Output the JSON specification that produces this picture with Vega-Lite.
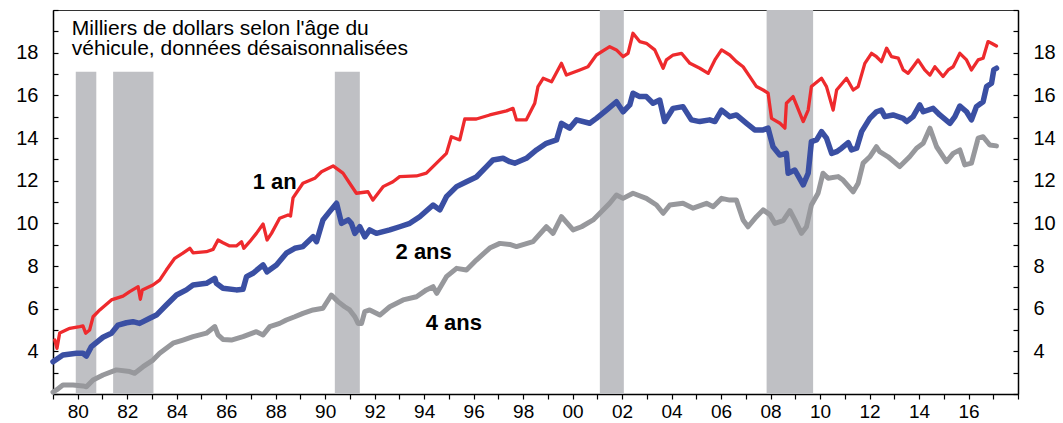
{
  "$schema": "https://vega.github.io/schema/vega-lite/v6.json",
  "width": 965,
  "height": 384,
  "autosize": {"type": "none"},
  "padding": {"left": 53, "top": 10, "right": 45, "bottom": 29},
  "background": "white",
  "config": {
    "view": {"stroke": "#333", "strokeWidth": 1},
    "font": "Liberation Sans",
    "axis": {"grid": false, "title": null, "labelFont": "Liberation Sans", "labelFontSize": 20, "labelColor": "#000", "domainColor": "#000", "domainWidth": 1.5, "tickColor": "#000", "tickWidth": 1.2}
  },
  "datasets": {
    "rec": [
      {"a": 1979.92, "b": 1980.75, "top": 17.1},
      {"a": 1981.43, "b": 1983.06, "top": 17.1},
      {"a": 1990.39, "b": 1991.40, "top": 17.1},
      {"a": 2001.10, "b": 2002.07, "top": 20},
      {"a": 2007.84, "b": 2009.72, "top": 20}
    ],
    "red": [
      {"t":1979.07,"v":4.53},{"t":1979.16,"v":4.14},{"t":1979.27,"v":4.86},{"t":1979.68,"v":5.08},{"t":1980.08,"v":5.16},{"t":1980.21,"v":5.19},{"t":1980.32,"v":4.85},{"t":1980.48,"v":5.00},{"t":1980.62,"v":5.62},{"t":1980.89,"v":5.94},
      {"t":1981.36,"v":6.41},{"t":1981.83,"v":6.59},{"t":1982.10,"v":6.80},{"t":1982.44,"v":7.03},{"t":1982.53,"v":6.44},{"t":1982.61,"v":6.88},{"t":1983.04,"v":7.11},{"t":1983.31,"v":7.34},{"t":1983.58,"v":7.81},{"t":1983.92,"v":8.36},
      {"t":1984.25,"v":8.60},{"t":1984.53,"v":8.83},{"t":1984.66,"v":8.62},{"t":1985.20,"v":8.67},{"t":1985.47,"v":8.78},{"t":1985.67,"v":9.22},{"t":1985.87,"v":9.09},{"t":1986.14,"v":8.94},{"t":1986.41,"v":8.94},{"t":1986.62,"v":9.14},
      {"t":1986.71,"v":8.83},{"t":1986.95,"v":9.14},{"t":1987.22,"v":9.53},{"t":1987.49,"v":9.97},{"t":1987.65,"v":9.22},{"t":1987.83,"v":9.53},{"t":1988.16,"v":10.24},{"t":1988.50,"v":10.39},{"t":1988.60,"v":10.34},{"t":1988.70,"v":11.19},
      {"t":1989.10,"v":11.88},{"t":1989.58,"v":12.11},{"t":1989.85,"v":12.42},{"t":1990.32,"v":12.69},{"t":1990.72,"v":12.35},{"t":1990.99,"v":11.88},{"t":1991.26,"v":11.41},{"t":1991.73,"v":11.48},{"t":1991.93,"v":11.09},{"t":1992.34,"v":11.72},
      {"t":1992.74,"v":11.95},{"t":1993.01,"v":12.19},{"t":1993.69,"v":12.22},{"t":1994.09,"v":12.35},{"t":1994.50,"v":12.82},{"t":1994.90,"v":13.28},{"t":1995.10,"v":14.06},{"t":1995.44,"v":13.91},{"t":1995.64,"v":14.89},{"t":1996.11,"v":14.89},
      {"t":1996.65,"v":15.08},{"t":1997.33,"v":15.27},{"t":1997.59,"v":15.39},{"t":1997.73,"v":14.85},{"t":1998.13,"v":14.85},{"t":1998.47,"v":15.63},{"t":1998.60,"v":16.41},{"t":1998.81,"v":16.80},{"t":1999.15,"v":16.64},{"t":1999.55,"v":17.50},
      {"t":1999.75,"v":16.95},{"t":2000.29,"v":17.19},{"t":2000.62,"v":17.34},{"t":2000.96,"v":17.89},{"t":2001.50,"v":18.28},{"t":2001.77,"v":18.13},{"t":2002.04,"v":17.81},{"t":2002.24,"v":17.97},{"t":2002.44,"v":18.91},{"t":2002.71,"v":18.52},
      {"t":2002.98,"v":18.44},{"t":2003.32,"v":18.13},{"t":2003.66,"v":17.27},{"t":2003.79,"v":17.66},{"t":2004.06,"v":17.89},{"t":2004.40,"v":17.97},{"t":2004.74,"v":17.50},{"t":2005.14,"v":17.27},{"t":2005.48,"v":17.03},{"t":2005.75,"v":17.66},
      {"t":2006.02,"v":18.13},{"t":2006.35,"v":17.89},{"t":2006.62,"v":17.58},{"t":2006.89,"v":17.34},{"t":2007.16,"v":16.88},{"t":2007.43,"v":16.41},{"t":2007.70,"v":16.25},{"t":2007.90,"v":16.10},{"t":2008.04,"v":14.92},{"t":2008.38,"v":14.69},
      {"t":2008.58,"v":14.46},{"t":2008.64,"v":15.63},{"t":2008.91,"v":15.94},{"t":2009.32,"v":14.77},{"t":2009.52,"v":15.31},{"t":2009.65,"v":16.41},{"t":2010.06,"v":16.80},{"t":2010.26,"v":16.41},{"t":2010.53,"v":15.31},{"t":2010.67,"v":16.25},
      {"t":2011.07,"v":16.80},{"t":2011.34,"v":16.25},{"t":2011.54,"v":16.41},{"t":2011.81,"v":17.50},{"t":2012.08,"v":17.97},{"t":2012.28,"v":17.81},{"t":2012.48,"v":17.58},{"t":2012.69,"v":18.21},{"t":2012.89,"v":17.81},{"t":2013.16,"v":17.74},
      {"t":2013.36,"v":17.19},{"t":2013.56,"v":17.03},{"t":2013.76,"v":17.34},{"t":2013.96,"v":17.66},{"t":2014.23,"v":17.19},{"t":2014.44,"v":16.95},{"t":2014.64,"v":17.34},{"t":2014.97,"v":16.88},{"t":2015.18,"v":17.19},{"t":2015.38,"v":17.34},
      {"t":2015.65,"v":17.97},{"t":2015.92,"v":17.66},{"t":2016.12,"v":17.19},{"t":2016.39,"v":17.66},{"t":2016.59,"v":17.74},{"t":2016.79,"v":18.52},{"t":2016.93,"v":18.44},{"t":2017.13,"v":18.31}
    ],
    "blue": [
      {"t":1979.00,"v":3.51},{"t":1979.40,"v":3.83},{"t":1979.95,"v":3.91},{"t":1980.21,"v":3.91},{"t":1980.35,"v":3.78},{"t":1980.55,"v":4.22},{"t":1981.02,"v":4.66},{"t":1981.36,"v":4.85},{"t":1981.63,"v":5.23},{"t":1981.97,"v":5.34},
      {"t":1982.23,"v":5.39},{"t":1982.50,"v":5.31},{"t":1982.91,"v":5.55},{"t":1983.18,"v":5.70},{"t":1983.58,"v":6.17},{"t":1983.99,"v":6.64},{"t":1984.39,"v":6.88},{"t":1984.66,"v":7.11},{"t":1985.20,"v":7.19},{"t":1985.54,"v":7.42},
      {"t":1985.60,"v":7.19},{"t":1985.87,"v":6.96},{"t":1986.41,"v":6.88},{"t":1986.68,"v":6.91},{"t":1986.82,"v":7.50},{"t":1987.08,"v":7.66},{"t":1987.49,"v":8.05},{"t":1987.65,"v":7.73},{"t":1988.03,"v":8.05},{"t":1988.43,"v":8.60},
      {"t":1988.77,"v":8.83},{"t":1989.10,"v":8.91},{"t":1989.51,"v":9.37},{"t":1989.65,"v":9.14},{"t":1989.91,"v":10.16},{"t":1990.18,"v":10.55},{"t":1990.46,"v":10.94},{"t":1990.66,"v":10.00},{"t":1990.93,"v":10.16},{"t":1991.06,"v":10.00},
      {"t":1991.20,"v":9.53},{"t":1991.40,"v":9.84},{"t":1991.60,"v":9.37},{"t":1991.80,"v":9.69},{"t":1992.07,"v":9.53},{"t":1992.61,"v":9.69},{"t":1993.01,"v":9.84},{"t":1993.42,"v":10.00},{"t":1993.82,"v":10.31},{"t":1994.36,"v":10.86},
      {"t":1994.63,"v":10.63},{"t":1994.90,"v":11.25},{"t":1995.31,"v":11.72},{"t":1995.71,"v":11.95},{"t":1996.11,"v":12.17},{"t":1996.52,"v":12.66},{"t":1996.78,"v":12.97},{"t":1997.19,"v":13.05},{"t":1997.46,"v":12.89},{"t":1997.66,"v":12.82},
      {"t":1998.13,"v":13.05},{"t":1998.54,"v":13.44},{"t":1998.94,"v":13.75},{"t":1999.35,"v":13.91},{"t":1999.55,"v":14.69},{"t":1999.88,"v":14.46},{"t":2000.16,"v":14.85},{"t":2000.69,"v":14.69},{"t":2000.96,"v":14.92},{"t":2001.37,"v":15.31},
      {"t":2001.77,"v":15.70},{"t":2002.04,"v":15.23},{"t":2002.31,"v":15.55},{"t":2002.44,"v":16.10},{"t":2002.71,"v":15.94},{"t":2002.98,"v":15.94},{"t":2003.25,"v":15.63},{"t":2003.52,"v":15.78},{"t":2003.72,"v":14.77},{"t":2004.06,"v":15.39},
      {"t":2004.46,"v":15.47},{"t":2004.80,"v":14.85},{"t":2005.14,"v":14.77},{"t":2005.54,"v":14.85},{"t":2005.75,"v":14.77},{"t":2006.02,"v":15.31},{"t":2006.35,"v":15.00},{"t":2006.62,"v":15.08},{"t":2007.03,"v":14.69},{"t":2007.36,"v":14.38},
      {"t":2007.70,"v":14.38},{"t":2007.90,"v":14.46},{"t":2008.10,"v":13.59},{"t":2008.37,"v":13.20},{"t":2008.64,"v":13.28},{"t":2008.71,"v":12.35},{"t":2008.98,"v":12.50},{"t":2009.32,"v":11.80},{"t":2009.52,"v":12.35},{"t":2009.65,"v":13.83},
      {"t":2009.86,"v":13.91},{"t":2010.06,"v":14.30},{"t":2010.26,"v":13.99},{"t":2010.47,"v":13.28},{"t":2010.67,"v":13.36},{"t":2010.87,"v":13.52},{"t":2011.14,"v":13.78},{"t":2011.27,"v":13.44},{"t":2011.48,"v":13.52},{"t":2011.68,"v":14.30},
      {"t":2012.01,"v":14.92},{"t":2012.28,"v":15.23},{"t":2012.48,"v":15.31},{"t":2012.62,"v":15.00},{"t":2012.95,"v":15.08},{"t":2013.36,"v":14.92},{"t":2013.50,"v":14.77},{"t":2013.76,"v":15.00},{"t":2014.03,"v":15.55},{"t":2014.17,"v":15.23},
      {"t":2014.57,"v":15.39},{"t":2014.84,"v":15.08},{"t":2015.25,"v":14.69},{"t":2015.45,"v":15.00},{"t":2015.65,"v":15.50},{"t":2015.92,"v":15.23},{"t":2016.12,"v":14.85},{"t":2016.32,"v":15.47},{"t":2016.59,"v":15.70},{"t":2016.73,"v":16.41},
      {"t":2016.93,"v":16.57},{"t":2017.02,"v":17.19},{"t":2017.13,"v":17.27}
    ],
    "gray": [
      {"t":1979.00,"v":2.09},{"t":1979.14,"v":2.19},{"t":1979.40,"v":2.42},{"t":1979.81,"v":2.42},{"t":1980.21,"v":2.38},{"t":1980.35,"v":2.34},{"t":1980.62,"v":2.66},{"t":1981.02,"v":2.89},{"t":1981.56,"v":3.13},{"t":1982.10,"v":3.05},
      {"t":1982.30,"v":2.97},{"t":1982.64,"v":3.28},{"t":1983.04,"v":3.59},{"t":1983.31,"v":3.91},{"t":1983.85,"v":4.38},{"t":1984.25,"v":4.53},{"t":1984.66,"v":4.69},{"t":1985.20,"v":4.85},{"t":1985.54,"v":5.16},{"t":1985.67,"v":4.77},
      {"t":1985.87,"v":4.56},{"t":1986.21,"v":4.53},{"t":1986.68,"v":4.69},{"t":1987.22,"v":4.92},{"t":1987.49,"v":4.77},{"t":1987.76,"v":5.16},{"t":1988.16,"v":5.31},{"t":1988.43,"v":5.47},{"t":1988.77,"v":5.62},{"t":1989.10,"v":5.78},
      {"t":1989.51,"v":5.94},{"t":1989.91,"v":6.02},{"t":1990.25,"v":6.64},{"t":1990.52,"v":6.33},{"t":1990.79,"v":6.09},{"t":1990.99,"v":5.94},{"t":1991.20,"v":5.62},{"t":1991.33,"v":5.31},{"t":1991.47,"v":5.31},{"t":1991.60,"v":5.86},
      {"t":1991.80,"v":5.94},{"t":1992.21,"v":5.70},{"t":1992.61,"v":6.09},{"t":1993.15,"v":6.41},{"t":1993.69,"v":6.56},{"t":1994.09,"v":6.88},{"t":1994.36,"v":7.03},{"t":1994.51,"v":6.72},{"t":1994.90,"v":7.50},{"t":1995.31,"v":7.89},
      {"t":1995.71,"v":7.81},{"t":1996.11,"v":8.28},{"t":1996.65,"v":8.84},{"t":1997.06,"v":9.06},{"t":1997.46,"v":9.01},{"t":1997.73,"v":8.91},{"t":1998.40,"v":9.14},{"t":1998.94,"v":9.84},{"t":1999.21,"v":9.53},{"t":1999.55,"v":10.31},
      {"t":2000.02,"v":9.69},{"t":2000.36,"v":9.84},{"t":2000.83,"v":10.16},{"t":2001.10,"v":10.47},{"t":2001.50,"v":10.94},{"t":2001.77,"v":11.33},{"t":2002.04,"v":11.17},{"t":2002.44,"v":11.41},{"t":2002.98,"v":11.17},{"t":2003.39,"v":10.86},
      {"t":2003.66,"v":10.47},{"t":2003.93,"v":10.86},{"t":2004.46,"v":10.94},{"t":2004.87,"v":10.71},{"t":2005.41,"v":10.94},{"t":2005.68,"v":10.78},{"t":2006.02,"v":11.17},{"t":2006.35,"v":11.09},{"t":2006.62,"v":11.09},{"t":2006.89,"v":10.16},
      {"t":2007.09,"v":9.84},{"t":2007.43,"v":10.31},{"t":2007.70,"v":10.63},{"t":2007.97,"v":10.41},{"t":2008.17,"v":10.00},{"t":2008.51,"v":10.13},{"t":2008.78,"v":10.60},{"t":2008.98,"v":10.16},{"t":2009.25,"v":9.53},{"t":2009.45,"v":9.84},
      {"t":2009.65,"v":10.86},{"t":2009.92,"v":11.41},{"t":2010.12,"v":12.35},{"t":2010.33,"v":12.11},{"t":2010.73,"v":12.19},{"t":2010.93,"v":12.03},{"t":2011.34,"v":11.48},{"t":2011.54,"v":11.88},{"t":2011.74,"v":12.82},{"t":2012.01,"v":13.12},
      {"t":2012.28,"v":13.59},{"t":2012.41,"v":13.36},{"t":2012.75,"v":13.12},{"t":2013.22,"v":12.66},{"t":2013.62,"v":13.12},{"t":2013.90,"v":13.52},{"t":2014.17,"v":13.75},{"t":2014.44,"v":14.46},{"t":2014.71,"v":13.59},{"t":2015.11,"v":12.89},
      {"t":2015.38,"v":13.28},{"t":2015.65,"v":13.44},{"t":2015.85,"v":12.74},{"t":2016.12,"v":12.82},{"t":2016.39,"v":13.99},{"t":2016.59,"v":14.06},{"t":2016.86,"v":13.67},{"t":2017.13,"v":13.63}
    ],
    "ann": [
      {"label": "1 an", "t": 1987.96, "v": 11.94},
      {"label": "2 ans", "t": 1993.98, "v": 8.66},
      {"label": "4 ans", "t": 1995.20, "v": 5.33}
    ],
    "ttl": [
      {"label": "Milliers de dollars selon l'âge du\nvéhicule, données désaisonnalisées", "t": 1979.76, "v": 18.83}
    ]
  },
  "resolve": {"axis": {"y": "independent", "x": "independent"}},
  "layer": [
    {
      "data": {"name": "rec"},
      "mark": {"type": "rect", "color": "#bfc0c4"},
      "encoding": {
        "x": {"field": "a", "type": "quantitative",
          "scale": {"domain": [1979, 2018], "nice": false, "zero": false},
          "axis": {
            "orient": "bottom",
            "values": [1979,1980,1981,1982,1983,1984,1985,1986,1987,1988,1989,1990,1991,1992,1993,1994,1995,1996,1997,1998,1999,2000,2001,2002,2003,2004,2005,2006,2007,2008,2009,2010,2011,2012,2013,2014,2015,2016,2017,2018],
            "labelExpr": "datum.value % 2 == 1 ? '' : datum.value == 1980 ? '80' : datum.value == 1982 ? '82' : datum.value == 1984 ? '84' : datum.value == 1986 ? '86' : datum.value == 1988 ? '88' : datum.value == 1990 ? '90' : datum.value == 1992 ? '92' : datum.value == 1994 ? '94' : datum.value == 1996 ? '96' : datum.value == 1998 ? '98' : datum.value == 2000 ? '00' : datum.value == 2002 ? '02' : datum.value == 2004 ? '04' : datum.value == 2006 ? '06' : datum.value == 2008 ? '08' : datum.value == 2010 ? '10' : datum.value == 2012 ? '12' : datum.value == 2014 ? '14' : datum.value == 2016 ? '16' : ''",
            "ticks": true, "tickSize": 5, "labelPadding": 3, "labelFontSize": 19, "labelOverlap": false
          }},
        "x2": {"field": "b"},
        "y": {"field": "top", "type": "quantitative",
          "scale": {"domain": [2, 20], "nice": false, "zero": false},
          "axis": {
            "orient": "left",
            "values": [2,3,4,5,6,7,8,9,10,11,12,13,14,15,16,17,18,19,20],
            "labelExpr": "datum.value % 2 == 0 && datum.value >= 4 && datum.value <= 18 ? datum.label : ''",
            "tickSize": -5, "labelPadding": 20
          }},
        "y2": {"datum": 2}
      }
    },
    {
      "data": {"name": "gray"},
      "mark": {"type": "line", "color": "#97989c", "strokeWidth": 5, "strokeJoin": "round", "strokeCap": "round"},
      "encoding": {
        "x": {"field": "t", "type": "quantitative", "axis": null},
        "y": {"field": "v", "type": "quantitative", "axis": null}
      }
    },
    {
      "data": {"name": "blue"},
      "mark": {"type": "line", "color": "#3a4fa3", "strokeWidth": 5.5, "strokeJoin": "round", "strokeCap": "round"},
      "encoding": {
        "x": {"field": "t", "type": "quantitative", "axis": null},
        "y": {"field": "v", "type": "quantitative", "axis": null}
      }
    },
    {
      "data": {"name": "red"},
      "mark": {"type": "line", "color": "#ee2a2d", "strokeWidth": 3.3, "strokeJoin": "round", "strokeCap": "round"},
      "encoding": {
        "x": {"field": "t", "type": "quantitative", "axis": null},
        "y": {"field": "v", "type": "quantitative",
          "axis": {
            "orient": "right",
            "values": [2,3,4,5,6,7,8,9,10,11,12,13,14,15,16,17,18,19,20],
            "labelExpr": "datum.value % 2 == 0 && datum.value >= 4 && datum.value <= 18 ? datum.label : ''",
            "tickSize": -5, "labelPadding": 20
          }}
      }
    },
    {
      "data": {"name": "ann"},
      "mark": {"type": "text", "font": "Liberation Sans", "fontWeight": "bold", "fontSize": 22, "align": "center", "baseline": "middle", "color": "#000"},
      "encoding": {
        "x": {"field": "t", "type": "quantitative", "axis": null},
        "y": {"field": "v", "type": "quantitative", "axis": null},
        "text": {"field": "label"}
      }
    },
    {
      "data": {"name": "ttl"},
      "mark": {"type": "text", "font": "Liberation Sans", "fontSize": 21, "align": "left", "baseline": "alphabetic", "color": "#000", "lineBreak": "\n", "lineHeight": 20},
      "encoding": {
        "x": {"field": "t", "type": "quantitative", "axis": null},
        "y": {"field": "v", "type": "quantitative", "axis": null},
        "text": {"field": "label"}
      }
    }
  ]
}
